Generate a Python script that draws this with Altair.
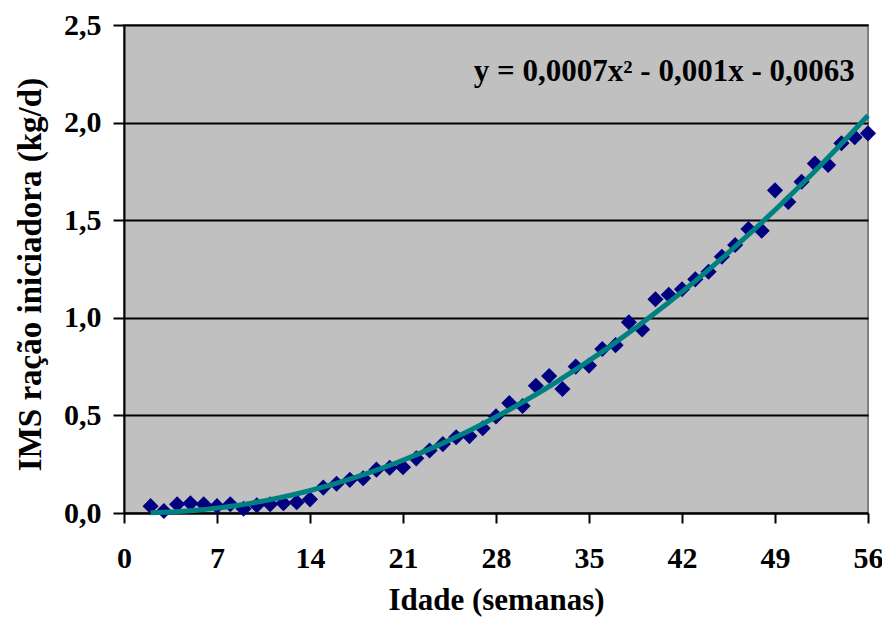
import altair as alt
import pandas as pd

weeks = list(range(2, 57))
ims = [0.035, 0.010, 0.045, 0.050, 0.045, 0.035, 0.045, 0.022, 0.040, 0.045,
       0.050, 0.055, 0.070, 0.130, 0.150, 0.170, 0.178, 0.222, 0.232, 0.235,
       0.280, 0.320, 0.353, 0.388, 0.394, 0.434, 0.495, 0.563, 0.548, 0.652,
       0.702, 0.635, 0.750, 0.755, 0.840, 0.860, 0.977, 0.940, 1.095, 1.118,
       1.146, 1.197, 1.236, 1.313, 1.373, 1.455, 1.446, 1.653, 1.593, 1.697,
       1.790, 1.783, 1.894, 1.925, 1.945]
x_ticks = [0, 7, 14, 21, 28, 35, 42, 49, 56]
y_ticks = [0, 0.5, 1.0, 1.5, 2.0, 2.5]
equation = "y = 0,0007x² - 0,001x - 0,0063"

df = pd.DataFrame({"semana": weeks, "ims": ims})

FONT = "Liberation Serif"

x_enc = alt.X("semana:Q", scale=alt.Scale(domain=[0, 56], nice=False, zero=False),
              axis=alt.Axis(values=x_ticks, title="Idade (semanas)", grid=False,
                            tickSize=10, tickWidth=2, tickColor="black",
                            domainColor="black", domainWidth=2,
                            labelFont=FONT, labelFontSize=30, labelFontWeight="bold",
                            labelColor="black", labelPadding=20, labelFlush=False,
                            titleFont=FONT, titleFontSize=31, titleFontWeight="bold",
                            titleColor="black", titleY=87, titleBaseline="middle"))
y_enc = alt.Y("ims:Q", scale=alt.Scale(domain=[0, 2.5], nice=False),
              axis=alt.Axis(values=y_ticks, title="IMS ração iniciadora (kg/d)",
                            grid=True, gridColor="black", gridWidth=2, gridOpacity=1,
                            tickSize=11, tickWidth=2, tickColor="black",
                            domainColor="black", domainWidth=2,
                            labelExpr="replace(format(datum.value, '.1f'), '.', ',')",
                            labelFont=FONT, labelFontSize=30, labelFontWeight="bold",
                            labelColor="black", labelPadding=12, labelFlush=False,
                            titleFont=FONT, titleFontSize=33, titleFontWeight="bold",
                            titleColor="black", titleX=-94, titleY=249,
                            titleBaseline="middle", titleAlign="center"))

points = alt.Chart(df).mark_point(shape="diamond", filled=True, size=260,
                                  color="#000080", opacity=1).encode(x=x_enc, y=y_enc)

trend = alt.Chart(df).transform_regression(
    "semana", "ims", method="poly", order=2
).mark_line(color="#008080", strokeWidth=5).encode(x="semana:Q", y="ims:Q")

label = alt.Chart(pd.DataFrame({"semana": [55.0], "ims": [2.26], "t": [equation]})).mark_text(
    font=FONT, fontSize=31, fontWeight="bold", color="black", align="right", baseline="middle"
).encode(x="semana:Q", y="ims:Q", text="t:N")

chart = alt.layer(points, trend, label).properties(
    width=744, height=488,
    autosize=alt.AutoSizeParams(type="none"),
    padding={"left": 116, "top": 17, "right": 14, "bottom": 107},
).configure_view(fill="#C0C0C0", stroke="#808080", strokeWidth=2)

chart.save("out.html", embed_options={"renderer": "svg", "actions": False})
